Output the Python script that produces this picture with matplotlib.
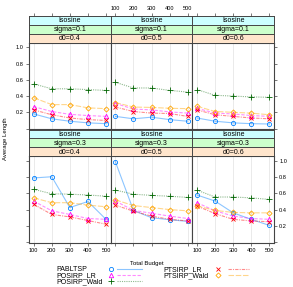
import matplotlib
matplotlib.use("Agg")
import matplotlib.pyplot as plt
import numpy as np

plt.rcParams['font.family'] = ['Liberation Sans', 'DejaVu Sans']

budget = [100, 200, 300, 400, 500]
methods = ["PABLTSP", "POSIRP_LR", "POSIRP_Wald", "PTSIRP_LR", "PTSIRP_Wald"]
sigmas = ["0.1", "0.3"]
d0s = ["0.4", "0.5", "0.6"]

# values[sigma][d0][method]
s01_d04 = {
    "PABLTSP":     [0.18, 0.12, 0.09, 0.07, 0.06],
    "POSIRP_LR":   [0.27, 0.21, 0.175, 0.16, 0.15],
    "POSIRP_Wald": [0.55, 0.49, 0.49, 0.48, 0.47],
    "PTSIRP_LR":   [0.23, 0.17, 0.13, 0.11, 0.10],
    "PTSIRP_Wald": [0.38, 0.295, 0.295, 0.255, 0.245],
}
s01_d05 = {
    "PABLTSP":     [0.15, 0.12, 0.14, 0.11, 0.09],
    "POSIRP_LR":   [0.31, 0.24, 0.23, 0.205, 0.19],
    "POSIRP_Wald": [0.57, 0.50, 0.50, 0.47, 0.45],
    "PTSIRP_LR":   [0.265, 0.21, 0.19, 0.185, 0.15],
    "PTSIRP_Wald": [0.32, 0.265, 0.26, 0.25, 0.245],
}
s01_d06 = {
    "PABLTSP":     [0.13, 0.09, 0.07, 0.06, 0.056],
    "POSIRP_LR":   [0.25, 0.19, 0.18, 0.16, 0.15],
    "POSIRP_Wald": [0.48, 0.41, 0.40, 0.39, 0.385],
    "PTSIRP_LR":   [0.23, 0.17, 0.15, 0.13, 0.12],
    "PTSIRP_Wald": [0.275, 0.21, 0.20, 0.19, 0.17],
}
s03_d04 = {
    "PABLTSP":     [0.79, 0.805, 0.425, 0.50, 0.28],
    "POSIRP_LR":   [0.505, 0.385, 0.34, 0.29, 0.28],
    "POSIRP_Wald": [0.65, 0.595, 0.59, 0.58, 0.565],
    "PTSIRP_LR":   [0.465, 0.34, 0.31, 0.265, 0.22],
    "PTSIRP_Wald": [0.545, 0.485, 0.485, 0.455, 0.435],
}
s03_d05 = {
    "PABLTSP":     [0.99, 0.39, 0.30, 0.275, 0.255],
    "POSIRP_LR":   [0.505, 0.39, 0.355, 0.32, 0.29],
    "POSIRP_Wald": [0.64, 0.59, 0.575, 0.565, 0.55],
    "PTSIRP_LR":   [0.455, 0.38, 0.32, 0.28, 0.26],
    "PTSIRP_Wald": [0.52, 0.45, 0.425, 0.40, 0.385],
}
s03_d06 = {
    "PABLTSP":     [0.58, 0.505, 0.36, 0.28, 0.205],
    "POSIRP_LR":   [0.485, 0.385, 0.32, 0.29, 0.28],
    "POSIRP_Wald": [0.64, 0.555, 0.555, 0.545, 0.525],
    "PTSIRP_LR":   [0.445, 0.35, 0.28, 0.26, 0.25],
    "PTSIRP_Wald": [0.445, 0.39, 0.365, 0.36, 0.36],
}
panels = [[s01_d04, s01_d05, s01_d06], [s03_d04, s03_d05, s03_d06]]

colors = {"PABLTSP": "#0080ff", "POSIRP_LR": "#ff00ff", "POSIRP_Wald": "#006400",
          "PTSIRP_LR": "#ff0000", "PTSIRP_Wald": "#ffa500"}
markers = {"PABLTSP": "o", "POSIRP_LR": "^", "POSIRP_Wald": "+",
           "PTSIRP_LR": "x", "PTSIRP_Wald": "D"}
msizes = {"PABLTSP": 3.0, "POSIRP_LR": 3.2, "POSIRP_Wald": 4.0,
          "PTSIRP_LR": 3.0, "PTSIRP_Wald": 2.6}
lstyles = {"PABLTSP": "-", "POSIRP_LR": (0, (3, 1.5)), "POSIRP_Wald": (0, (1, 1)),
           "PTSIRP_LR": (0, (3, 1, 1, 1)), "PTSIRP_Wald": (0, (5, 1.5))}

W, H = 293, 287
fig = plt.figure(figsize=(W / 100, H / 100), dpi=100)

def fx(px):
    return px / W

def fy(py):
    return 1 - py / H

col_edges = [29, 110.7, 192.3, 274]
row_tops = [16, 129.5]
strip_h = 8.85
panel_h = 86.8
xlim = (74, 526)
ylim = (-0.01, 1.06)
edge = "#444444"
tick_fs = 4.1
strip_colors = ["#ccffff", "#ccffcc", "#ffe5cc"]

for r in range(2):
    for c in range(3):
        x0, x1 = col_edges[c], col_edges[c + 1]
        top = row_tops[r]
        ptop = top + 3 * strip_h
        pbot = ptop + panel_h
        ax = fig.add_axes([fx(x0), fy(pbot), fx(x1 - x0), (panel_h) / H])
        ax.set_xlim(*xlim)
        ax.set_ylim(*ylim)
        ax.set_xticks(budget)
        ax.set_yticks([0.0, 0.2, 0.4, 0.6, 0.8, 1.0])
        ax.grid(axis='x', color='#e6e6e6', lw=0.6)
        ax.set_axisbelow(True)
        for sp in ax.spines.values():
            sp.set_color(edge)
            sp.set_linewidth(0.8)
        data = panels[r][c]
        for m in methods:
            ax.plot(budget, data[m], color=colors[m], ls=lstyles[m], lw=0.8, alpha=0.45)
            ax.plot(budget, data[m], ls='none', marker=markers[m], ms=msizes[m],
                    mfc='none', mec=colors[m], mew=0.6)
        ax.tick_params(direction='out', length=2.2, width=0.5, color=edge,
                       labelsize=tick_fs, pad=1.5,
                       top=False, bottom=(r == 1), left=(c == 0), right=(c == 2),
                       labelbottom=(r == 1 and c != 1), labeltop=False,
                       labelleft=(c == 0 and r == 0), labelright=(c == 2 and r == 1))
        if c == 0 and r == 0:
            ax.set_yticklabels(["", "0.2", "0.4", "0.6", "0.8", "1.0"])
        if c == 2 and r == 1:
            ax.set_yticklabels(["", "0.2", "0.4", "0.6", "0.8", "1.0"])
        # strips
        labels = ["Isosine", "sigma=" + sigmas[r], "d0=" + d0s[c]]
        for k in range(3):
            sax = fig.add_axes([fx(x0), fy(top + (k + 1) * strip_h), fx(x1 - x0), strip_h / H])
            sax.set_facecolor(strip_colors[k])
            sax.set_xlim(*xlim)
            sax.set_yticks([])
            for sp in sax.spines.values():
                sp.set_color(edge)
                sp.set_linewidth(0.7)
            sax.text(0.5, 0.45, labels[k], transform=sax.transAxes, ha='center',
                     va='center', fontsize=5.0)
            if k == 0 and r == 0:
                sax.set_xticks(budget)
                sax.tick_params(axis='x', direction='out', length=2.2, width=0.5,
                                color=edge, labelsize=tick_fs, pad=1.5,
                                top=True, bottom=False, labeltop=(c == 1),
                                labelbottom=False)
            else:
                sax.set_xticks([])

fig.text(fx(147), fy(264), "Total Budget", ha='center', va='center', fontsize=4.3)
fig.text(fx(5.5), fy(139), "Average Length", ha='center', va='center',
         rotation=90, fontsize=4.3)

# legend (key) drawn in a full-figure overlay in pixel units
lax = fig.add_axes([0, 0, 1, 1])
lax.set_xlim(0, W)
lax.set_ylim(H, 0)
lax.axis('off')
key_cols = [(methods[:3], 56, 110.7, (117.3, 141.7)),
            (methods[3:], 163.3, 218.3, (228, 249))]
row_y = [269.3, 275.3, 281.3]
for items, tx, sx, (l0, l1) in key_cols:
    for i, m in enumerate(items):
        yy = row_y[i]
        lax.text(tx, yy, m, ha='left', va='center', fontsize=5.0)
        lax.plot([sx], [yy], ls='none', marker=markers[m], ms=msizes[m],
                 mfc='none', mec=colors[m], mew=0.6)
        lax.plot([l0, l1], [yy, yy], color=colors[m], ls=lstyles[m], lw=0.8, alpha=0.45)

fig.savefig("out.png", dpi=100)
